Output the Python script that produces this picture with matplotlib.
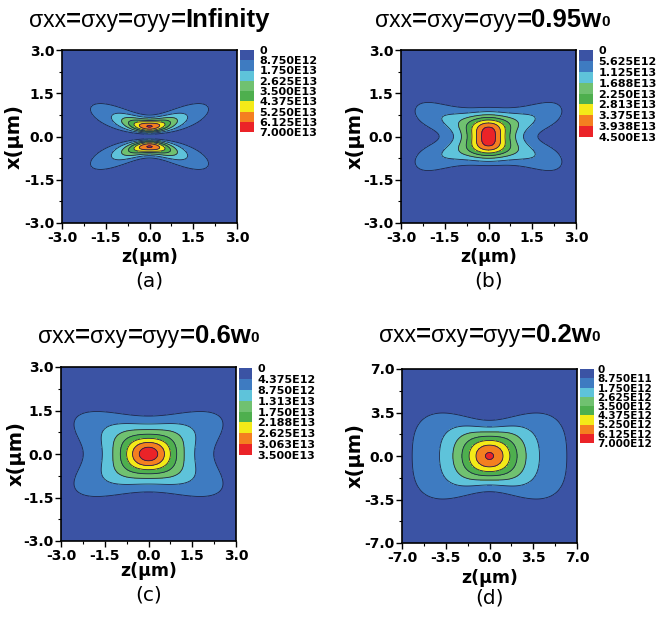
import numpy as np
import matplotlib
matplotlib.use('Agg')
import matplotlib.pyplot as plt
from matplotlib.colors import ListedColormap, BoundaryNorm
from matplotlib.ticker import FixedLocator, MultipleLocator

plt.rcParams['axes.unicode_minus'] = False

W, H, DPI = 656, 619, 100

# ---------------- data ----------------
panel_labels = ['(a)', '(b)', '(c)', '(d)']
title_values = ['Infinity', '0.95w', '0.6w', '0.2w']
title_subscripts = ['', '0', '0', '0']

level_labels_a = ['0', '8.750E12', '1.750E13', '2.625E13', '3.500E13',
                  '4.375E13', '5.250E13', '6.125E13', '7.000E13']
level_labels_b = ['0', '5.625E12', '1.125E13', '1.688E13', '2.250E13',
                  '2.813E13', '3.375E13', '3.938E13', '4.500E13']
level_labels_c = ['0', '4.375E12', '8.750E12', '1.313E13', '1.750E13',
                  '2.188E13', '2.625E13', '3.063E13', '3.500E13']
level_labels_d = ['0', '8.750E11', '1.750E12', '2.625E12', '3.500E12',
                  '4.375E12', '5.250E12', '6.125E12', '7.000E12']
level_labels = [level_labels_a, level_labels_b, level_labels_c, level_labels_d]

ticks_small = [-3.0, -1.5, 0.0, 1.5, 3.0]
tick_labels_small = ['-3.0', '-1.5', '0.0', '1.5', '3.0']
ticks_large = [-7.0, -3.5, 0.0, 3.5, 7.0]
tick_labels_large = ['-7.0', '-3.5', '0.0', '3.5', '7.0']
axis_ticks = [ticks_small, ticks_small, ticks_small, ticks_large]
axis_tick_labels = [tick_labels_small, tick_labels_small, tick_labels_small, tick_labels_large]

# focal-field parameters (um) estimated from the contour extents
peak_values = [6.2e13, 4.28e13, 3.33e13, 6.23e12]   # hottest value
# central spot
gauss_weight = [0.0, 1.0, 1.0, 1.0]
gauss_waist = [0.5, 0.88, 0.9, 2.6]
gauss_width_range = [0.82, 1000.0, 1.32, 2.5]
gauss_amp_range = [0.82, 1.0, 1.32, 2.5]
gauss_amp_order = [2, 2, 2, 2]
gauss_amp_power = [1.0, 1.5, 1.5, 1.0]
# two-lobe part
ring_weight = [1.0, 0.62, 0.6, 0.25]
ring_waist = [0.5, 0.75, 1.15, 2.6]
ring_width_range = [0.82, 1.75, 2.0, 3.5]
ring_amp_range = [0.82, 2.6, 2.0, 3.5]
ring_amp_order = [2, 6, 2, 2]
ring_amp_power = [1.0, 1.0, 1.0, 1.0]

level_colors = ['#3B53A4', '#3E7BC1', '#5EC3DA', '#70C170',
                '#4EAF4E', '#F4EA18', '#F47F20', '#EB2328']

# ---------------- layout (pixels) ----------------
ax_boxes = [(62, 50, 237, 223), (401, 50, 576, 223),
            (61, 367, 236, 541), (402, 369, 577, 543)]
cbar_boxes = [(240, 50, 254, 132), (579, 50, 593, 137),
              (239, 368, 252, 455), (580, 369, 594, 443)]
cbar_label_size = [8, 8, 8, 7.5]
cbar_label_pad = [4, 4, 4, 2.5]
title_base = [27, 27, 343, 342]
xlabel_y = [257, 257, 571, 578]
plabel_y = [281, 281, 595, 598]
ylabel_x = [14, 355, 16, 355]

fig = plt.figure(figsize=(W / DPI, H / DPI), dpi=DPI)


def rect(b):
    l, t, r, bt = b
    return [l / W, 1 - bt / H, (r - l) / W, (bt - t) / H]


def beam_part(x, z, waist, width_range, amp_range, amp_order, amp_power, ring):
    w2 = waist ** 2 * (1 + (z / width_range) ** 2)
    amp = (1 + np.abs(z / amp_range) ** amp_order) ** (-amp_power)
    t = 2 * x ** 2 / w2
    shape = t * np.exp(-t) if ring else np.exp(-t)
    return amp * shape


def focal_field(x, z, k):
    I0 = beam_part(x, z, gauss_waist[k], gauss_width_range[k], gauss_amp_range[k],
                   gauss_amp_order[k], gauss_amp_power[k], False)
    I1 = beam_part(x, z, ring_waist[k], ring_width_range[k], ring_amp_range[k],
                   ring_amp_order[k], ring_amp_power[k], True)
    F = gauss_weight[k] * I0 + ring_weight[k] * I1
    return peak_values[k] * F / F.max()


renderer = fig.canvas.get_renderer()


def rich_title(xc_px, base_px, pieces):
    texts = []
    for s, size, weight, dy in pieces:
        t = fig.text(0, 0, s, fontsize=size, fontweight=weight,
                     family='Liberation Sans', ha='left', va='baseline',
                     transform=None)
        texts.append((t, dy))
    widths = [t.get_window_extent(renderer).width for t, _ in texts]
    x = xc_px - sum(widths) / 2
    for (t, dy), w in zip(texts, widths):
        t.set_position((x, H - base_px - dy))
        x += w


cmap = ListedColormap(level_colors)

for k in range(4):
    ax = fig.add_axes(rect(ax_boxes[k]))
    lim = axis_ticks[k][-1]
    n = 501
    zz = np.linspace(-lim, lim, n)
    xx = np.linspace(-lim, lim, n)
    Z, X = np.meshgrid(zz, xx)
    field = focal_field(X, Z, k)
    levels = [float(s) for s in level_labels[k]]
    norm = BoundaryNorm(levels, cmap.N)
    cf = ax.contourf(Z, X, field, levels=levels, cmap=cmap, norm=norm)
    ax.contour(Z, X, field, levels=levels[1:], colors='#1E2348', linewidths=0.6)
    ax.set_xlim(-lim, lim)
    ax.set_ylim(-lim, lim)
    for axis in (ax.xaxis, ax.yaxis):
        axis.set_major_locator(FixedLocator(axis_ticks[k]))
        axis.set_minor_locator(MultipleLocator((axis_ticks[k][1] - axis_ticks[k][0]) / 2))
    ax.set_xticklabels(axis_tick_labels[k])
    ax.set_yticklabels(axis_tick_labels[k])
    ax.tick_params(which='major', direction='out', length=4, width=1.0, pad=1.5,
                   labelsize=10)
    ax.tick_params(which='minor', direction='out', length=2.5, width=0.8)
    for lab in ax.get_xticklabels() + ax.get_yticklabels():
        lab.set_fontweight('bold')
        lab.set_family('DejaVu Sans')
    for sp in ax.spines.values():
        sp.set_linewidth(1.2)

    cax = fig.add_axes(rect(cbar_boxes[k]))
    cb = fig.colorbar(cf, cax=cax, ticks=levels)
    cb.set_ticklabels(level_labels[k])
    cb.outline.set_visible(False)
    cax.invert_yaxis()
    cax.tick_params(length=0, pad=cbar_label_pad[k], labelsize=cbar_label_size[k])
    for lab in cax.get_yticklabels():
        lab.set_fontweight('bold')
        lab.set_family('DejaVu Sans')

    l, t, r, b = ax_boxes[k]
    xc = (l + r) / 2
    fig.text(xc / W, 1 - xlabel_y[k] / H, 'z(\u03bcm)', ha='center', va='center',
             fontsize=12.5, fontweight='bold', family='DejaVu Sans')
    fig.text(xc / W, 1 - plabel_y[k] / H, panel_labels[k], ha='center', va='center',
             fontsize=14.5, family='DejaVu Sans')
    fig.text(ylabel_x[k] / W, 1 - ((t + b) / 2) / H, 'x(\u03bcm)', ha='center',
             va='center', rotation=90, fontsize=14, fontweight='bold',
             family='DejaVu Sans')

    pieces = []
    for sub in ['xx', 'xy', 'yy']:
        pieces.append(('\u03c3' + sub, 16.5, 'normal', 0))
        pieces.append(('=', 18.5, 'bold', 0))
    pieces.append((title_values[k], 18.5, 'bold', 0))
    if title_subscripts[k]:
        pieces.append((title_subscripts[k], 11, 'bold', -1))
    rich_title(xc + (0 if k != 1 else 4), title_base[k], pieces)

fig.savefig('out.png', dpi=DPI)
